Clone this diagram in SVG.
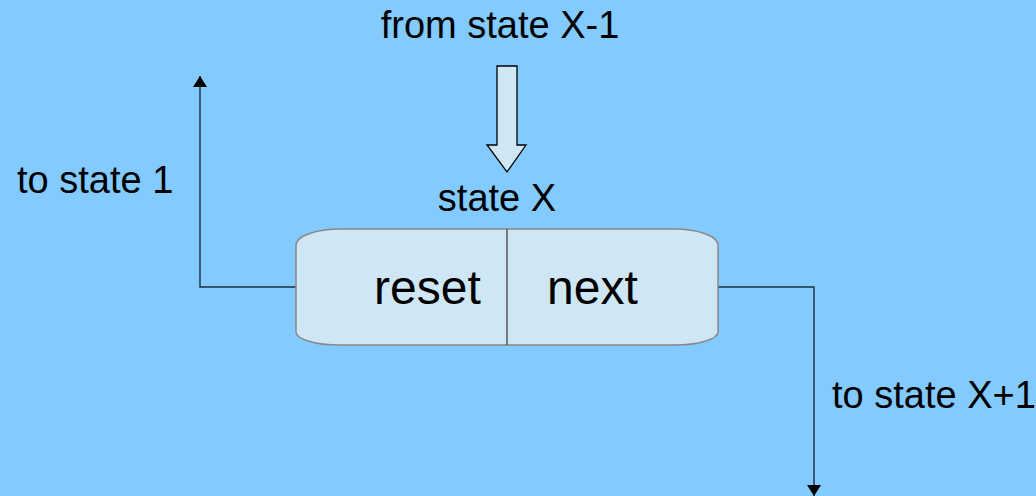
<svg xmlns="http://www.w3.org/2000/svg" width="1036" height="496" viewBox="0 0 1036 496">
  <style>
    .t { font-family: "Liberation Sans", Arial, sans-serif; font-size: 38px; fill: #000; }
    .big { font-family: "Liberation Sans", Arial, sans-serif; font-size: 48px; fill: #000; }
    .conn { fill: none; stroke: #1c2f3d; stroke-width: 1.4; }
  </style>
  <defs>
    <marker id="ah" viewBox="0 0 11 14" refX="11" refY="7" markerWidth="11" markerHeight="14" markerUnits="userSpaceOnUse" orient="auto">
      <path d="M0,0 L11,7 L0,14 Z" fill="#000"/>
    </marker>
  </defs>
  <rect width="1036" height="496" fill="#83caff"/>

  <g id="connectors">
    <path class="conn" d="M296,287 H200 V76" marker-end="url(#ah)"/>
    <path class="conn" d="M718,287 H814 V496" marker-end="url(#ah)"/>
  </g>

  <g id="incoming-arrow">
    <path d="M497,66 H517 V145 H526 L507,172 L487,145 H497 Z" fill="#cfe7f5" stroke="#000" stroke-width="1.3" stroke-linejoin="miter"/>
  </g>

  <g id="state-x">
    <path d="M340,229 H674 A44,16 0 0 1 718,245 V332 A44,13 0 0 1 674,345 H340 A44,13 0 0 1 296,332 V245 A44,16 0 0 1 340,229 Z" fill="#cfe7f5" stroke="#888" stroke-width="1.5"/>
    <line x1="507" y1="229" x2="507" y2="345" stroke="#555" stroke-width="1.5"/>
    <text class="big" x="374" y="304">reset</text>
    <text class="big" x="547" y="304">next</text>
  </g>

  <g id="labels">
    <text class="t" x="500" y="38" text-anchor="middle">from state X-1</text>
    <text class="t" x="497" y="211" text-anchor="middle">state X</text>
    <text class="t" x="17" y="193">to state 1</text>
    <text class="t" x="832" y="408">to state X+1</text>
  </g>
</svg>
